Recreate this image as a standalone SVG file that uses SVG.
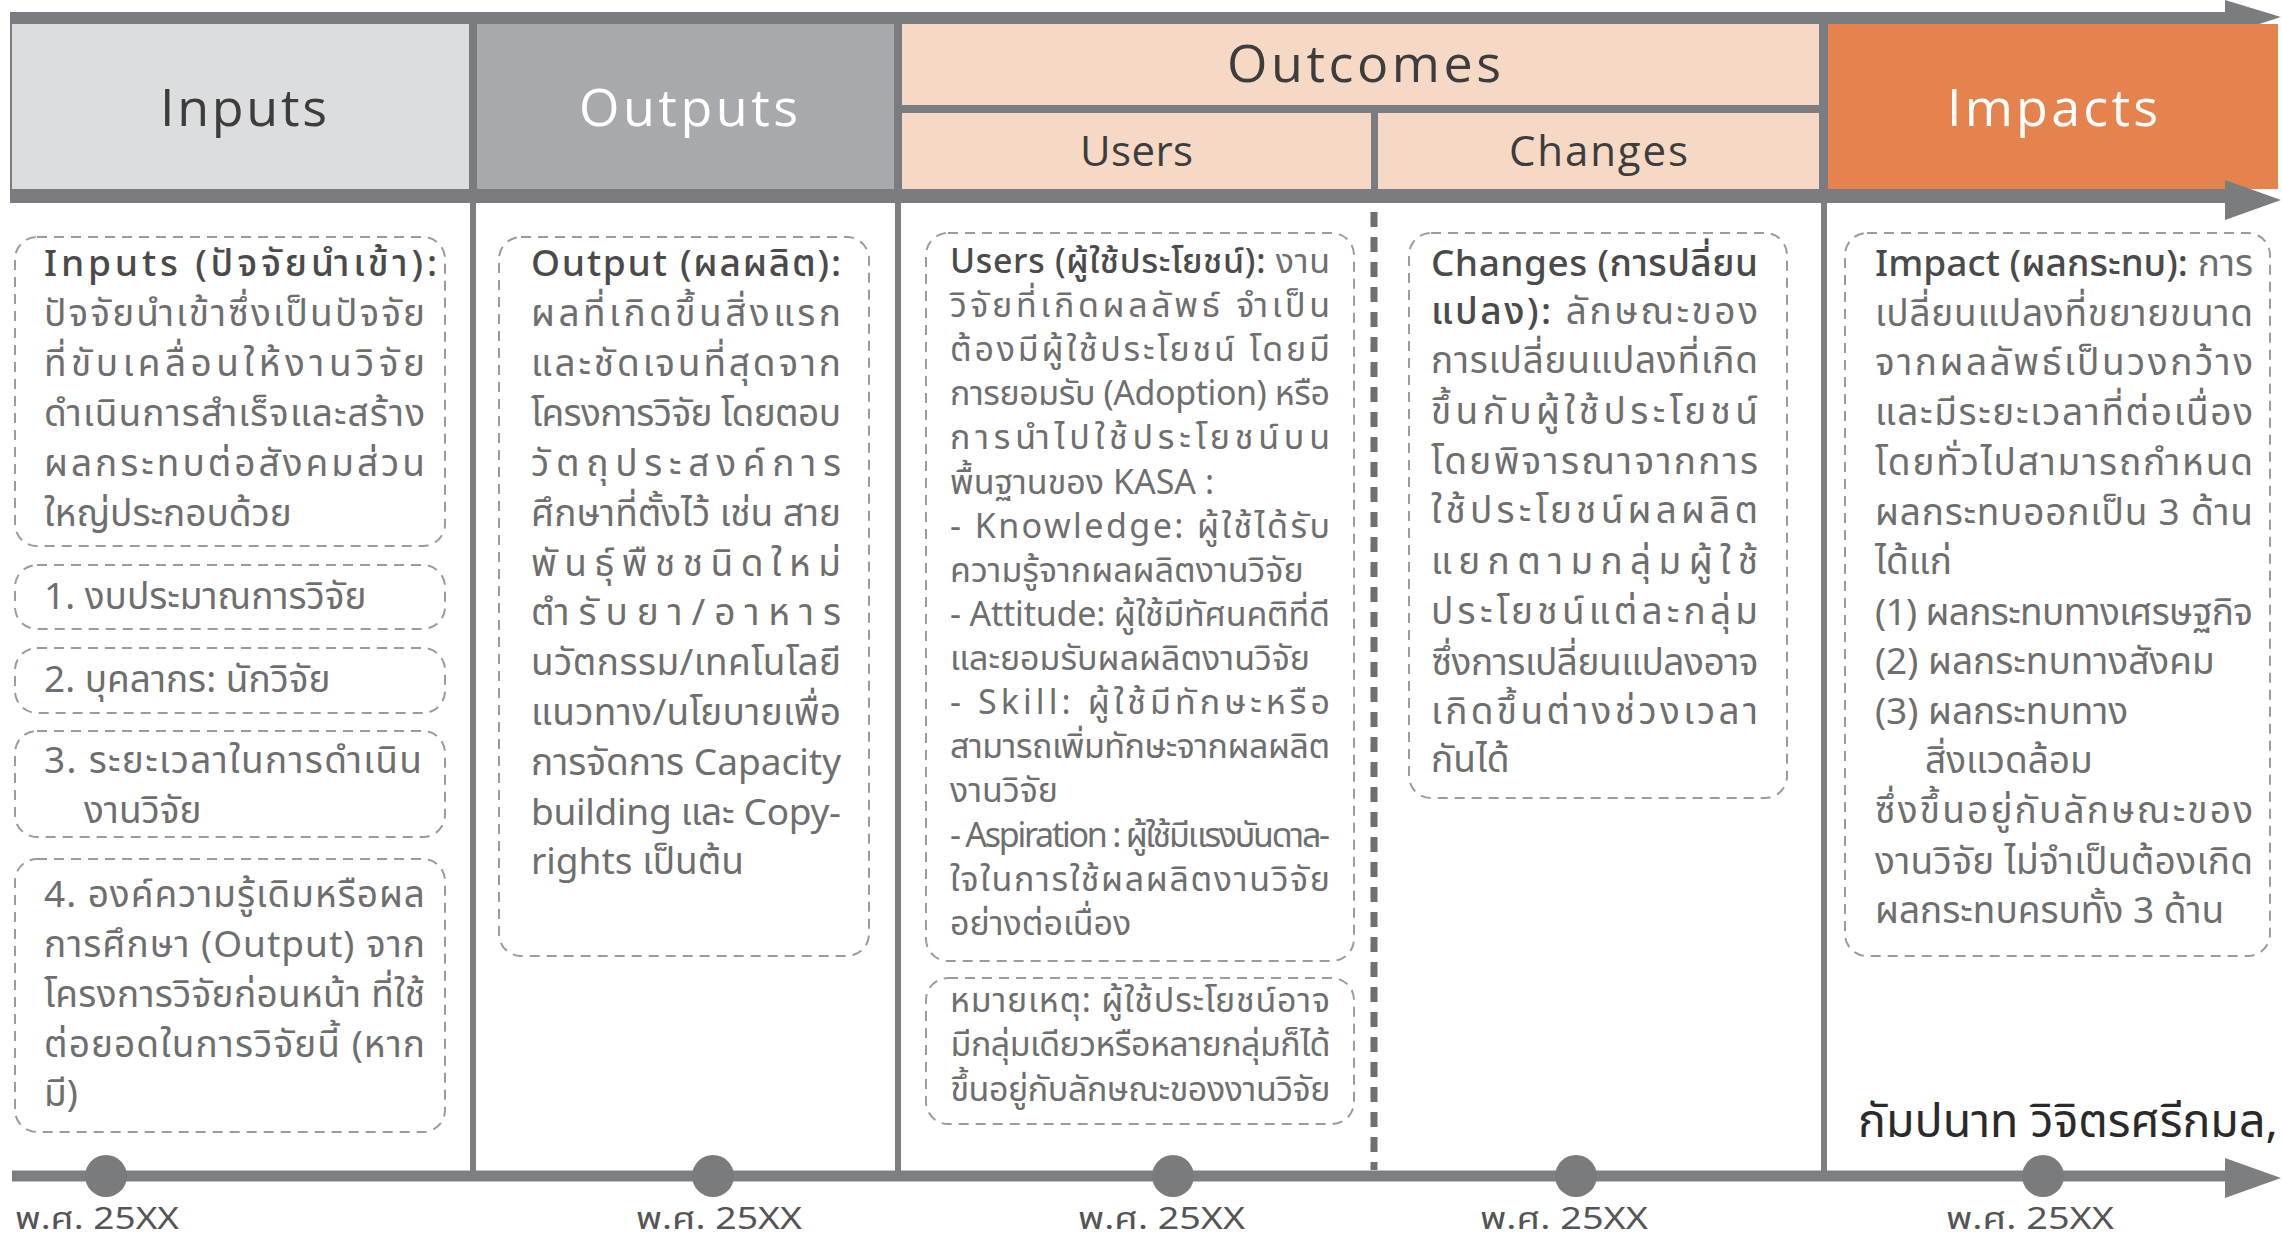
<svg xmlns="http://www.w3.org/2000/svg" width="2282" height="1243" viewBox="0 0 2282 1243">
<style>
.hd{font-family:"Open Sans","Lato","Liberation Sans",sans-serif;font-size:52px;fill:#3d3d3d}
.hs{font-size:42px}
.hw{fill:#ffffff}
.box{fill:none;stroke:#9b9b9b;stroke-width:2;stroke-dasharray:10 7}
.t{font-family:"Noto Sans Thai","Noto Sans Thai Looped","Noto Sans","DejaVu Sans",sans-serif;font-size:37px;fill:#6e6e6e}
.ts{font-size:34px}
.b{fill:#4a4a4a;font-weight:500}
.lbl{font-family:"Noto Sans Thai","Noto Sans","DejaVu Sans Condensed",sans-serif;font-size:31px;fill:#555555}
.div{stroke:#7d7e80;stroke-width:6}
</style>
<rect width="2282" height="1243" fill="#ffffff"/>

<g id="header">
  <rect x="10" y="12" width="2225" height="191" fill="#7b7c7f"/>
  <polygon points="2225,0 2281,17 2225,35" fill="#7b7c7f"/>
  <g id="h-inputs"><rect x="12" y="24" width="457" height="165" fill="#dcdddf"/><text class="hd" x="160" y="126" textLength="167" lengthAdjust="spacing">Inputs</text></g>
  <g id="h-outputs"><rect x="477" y="24" width="417" height="165" fill="#a7a9ac"/><text class="hd hw" x="579" y="126" textLength="219" lengthAdjust="spacing">Outputs</text></g>
  <g id="h-outcomes"><rect x="902" y="24" width="917" height="81" fill="#f6d9c4"/><text class="hd" x="1227" y="82" textLength="274" lengthAdjust="spacing">Outcomes</text></g>
  <g id="h-users"><rect x="902" y="113" width="469" height="76" fill="#f6d9c4"/><text class="hd hs" x="1080" y="166" textLength="113" lengthAdjust="spacing">Users</text></g>
  <g id="h-changes"><rect x="1378" y="113" width="441" height="76" fill="#f6d9c4"/><text class="hd hs" x="1509" y="166" textLength="179" lengthAdjust="spacing">Changes</text></g>
  <g id="h-impacts"><rect x="1828" y="24" width="450" height="165" fill="#e5834f"/><text class="hd hw" x="1947" y="126" textLength="211" lengthAdjust="spacing">Impacts</text></g>
  <polygon points="2225,180 2281,200 2225,220" fill="#7b7c7f"/>
</g>

<g id="connectors">
  <line class="div" x1="473" y1="200" x2="473" y2="1176"/>
  <line class="div" x1="898" y1="200" x2="898" y2="1176"/>
  <line class="div" x1="1824" y1="200" x2="1824" y2="1176"/>
  <line x1="1374" y1="212" x2="1374" y2="1170" stroke="#6f7072" stroke-width="7" stroke-dasharray="15 10"/>
  <line x1="12" y1="1176" x2="2230" y2="1176" stroke="#7d7e80" stroke-width="11"/>
  <polygon points="2225,1158 2281,1178 2225,1198" fill="#7d7e80"/>
  <g fill="#7a7b7d">
    <circle cx="106" cy="1176" r="21"/>
    <circle cx="713" cy="1176" r="21"/>
    <circle cx="1173" cy="1176" r="21"/>
    <circle cx="1576" cy="1176" r="21"/>
    <circle cx="2043" cy="1176" r="21"/>
  </g>
</g>

<g id="inputs-desc">
  <rect class="box" x="15" y="237" width="430" height="309" rx="22"/>
  <text class="t" x="44" y="276" textLength="393" lengthAdjust="spacing"><tspan class="b">Inputs (ปัจจัยนำเข้า):</tspan></text>
  <text class="t" x="44" y="326" textLength="381" lengthAdjust="spacing">ปัจจัยนำเข้าซึ่งเป็นปัจจัย</text>
  <text class="t" x="44" y="376" textLength="381" lengthAdjust="spacing">ที่ขับเคลื่อนให้งานวิจัย</text>
  <text class="t" x="44" y="426" textLength="381" lengthAdjust="spacing">ดำเนินการสำเร็จและสร้าง</text>
  <text class="t" x="44" y="476" textLength="381" lengthAdjust="spacing">ผลกระทบต่อสังคมส่วน</text>
  <text class="t" x="44" y="526">ใหญ่ประกอบด้วย</text>
</g>
<g id="input-1">
  <rect class="box" x="15" y="565" width="430" height="64" rx="22"/>
  <text class="t" x="44" y="609">1. งบประมาณการวิจัย</text>
</g>
<g id="input-2">
  <rect class="box" x="15" y="648" width="430" height="65" rx="22"/>
  <text class="t" x="44" y="692">2. บุคลากร: นักวิจัย</text>
</g>
<g id="input-3">
  <rect class="box" x="15" y="731" width="430" height="106" rx="22"/>
  <text class="t" x="44" y="773" textLength="378" lengthAdjust="spacing">3. ระยะเวลาในการดำเนิน</text>
  <text class="t" x="84" y="823">งานวิจัย</text>
</g>
<g id="input-4">
  <rect class="box" x="15" y="859" width="430" height="273" rx="22"/>
  <text class="t" x="44" y="907" textLength="381" lengthAdjust="spacing">4. องค์ความรู้เดิมหรือผล</text>
  <text class="t" x="44" y="957" textLength="381" lengthAdjust="spacing">การศึกษา (Output) จาก</text>
  <text class="t" x="44" y="1007" textLength="381" lengthAdjust="spacing">โครงการวิจัยก่อนหน้า ที่ใช้</text>
  <text class="t" x="44" y="1057" textLength="381" lengthAdjust="spacing">ต่อยอดในการวิจัยนี้ (หาก</text>
  <text class="t" x="44" y="1106">มี)</text>
</g>

<g id="output-desc">
  <rect class="box" x="499" y="237" width="370" height="719" rx="22"/>
  <text class="t" x="531" y="276" textLength="310" lengthAdjust="spacing"><tspan class="b">Output (ผลผลิต):</tspan></text>
  <text class="t" x="531" y="326" textLength="310" lengthAdjust="spacing">ผลที่เกิดขึ้นสิ่งแรก</text>
  <text class="t" x="531" y="376" textLength="310" lengthAdjust="spacing">และชัดเจนที่สุดจาก</text>
  <text class="t" x="531" y="426" textLength="310" lengthAdjust="spacing">โครงการวิจัย โดยตอบ</text>
  <text class="t" x="531" y="476" textLength="310" lengthAdjust="spacing">วัตถุประสงค์การ</text>
  <text class="t" x="531" y="526" textLength="310" lengthAdjust="spacing">ศึกษาที่ตั้งไว้ เช่น สาย</text>
  <text class="t" x="531" y="576" textLength="310" lengthAdjust="spacing">พันธุ์พืชชนิดใหม่</text>
  <text class="t" x="531" y="625" textLength="310" lengthAdjust="spacing">ตำรับยา/อาหาร</text>
  <text class="t" x="531" y="675" textLength="310" lengthAdjust="spacing">นวัตกรรม/เทคโนโลยี</text>
  <text class="t" x="531" y="725" textLength="310" lengthAdjust="spacing">แนวทาง/นโยบายเพื่อ</text>
  <text class="t" x="531" y="775" textLength="310" lengthAdjust="spacing">การจัดการ Capacity</text>
  <text class="t" x="531" y="825" textLength="310" lengthAdjust="spacing">building และ Copy-</text>
  <text class="t" x="531" y="874">rights เป็นต้น</text>
</g>

<g id="users-desc">
  <rect class="box" x="926" y="233" width="428" height="728" rx="22"/>
  <text class="t ts" x="950" y="273" textLength="380" lengthAdjust="spacing"><tspan class="b">Users (ผู้ใช้ประโยชน์):</tspan> งาน</text>
  <text class="t ts" x="950" y="317" textLength="380" lengthAdjust="spacing">วิจัยที่เกิดผลลัพธ์ จำเป็น</text>
  <text class="t ts" x="950" y="361" textLength="380" lengthAdjust="spacing">ต้องมีผู้ใช้ประโยชน์ โดยมี</text>
  <text class="t ts" x="950" y="405" textLength="380" lengthAdjust="spacing">การยอมรับ (Adoption) หรือ</text>
  <text class="t ts" x="950" y="449" textLength="380" lengthAdjust="spacing">การนำไปใช้ประโยชน์บน</text>
  <text class="t ts" x="950" y="494">พื้นฐานของ KASA :</text>
  <text class="t ts" x="950" y="538" textLength="380" lengthAdjust="spacing">- Knowledge: ผู้ใช้ได้รับ</text>
  <text class="t ts" x="950" y="582">ความรู้จากผลผลิตงานวิจัย</text>
  <text class="t ts" x="950" y="626" textLength="380" lengthAdjust="spacing">- Attitude: ผู้ใช้มีทัศนคติที่ดี</text>
  <text class="t ts" x="950" y="670">และยอมรับผลผลิตงานวิจัย</text>
  <text class="t ts" x="950" y="714" textLength="380" lengthAdjust="spacing">- Skill: ผู้ใช้มีทักษะหรือ</text>
  <text class="t ts" x="950" y="758" textLength="380" lengthAdjust="spacing">สามารถเพิ่มทักษะจากผลผลิต</text>
  <text class="t ts" x="950" y="802">งานวิจัย</text>
  <text class="t ts" x="950" y="847" textLength="380" lengthAdjust="spacing">- Aspiration : ผู้ใช้มีแรงบันดาล-</text>
  <text class="t ts" x="950" y="891" textLength="380" lengthAdjust="spacing">ใจในการใช้ผลผลิตงานวิจัย</text>
  <text class="t ts" x="950" y="935">อย่างต่อเนื่อง</text>
</g>
<g id="users-note">
  <rect class="box" x="926" y="978" width="428" height="146" rx="22"/>
  <text class="t ts" x="950" y="1012" textLength="380" lengthAdjust="spacing">หมายเหตุ: ผู้ใช้ประโยชน์อาจ</text>
  <text class="t ts" x="950" y="1056" textLength="380" lengthAdjust="spacing">มีกลุ่มเดียวหรือหลายกลุ่มก็ได้</text>
  <text class="t ts" x="950" y="1101" textLength="380" lengthAdjust="spacing">ขึ้นอยู่กับลักษณะของงานวิจัย</text>
</g>

<g id="changes-desc">
  <rect class="box" x="1409" y="233" width="378" height="565" rx="22"/>
  <text class="t" x="1431" y="276" textLength="327" lengthAdjust="spacing"><tspan class="b">Changes (การปลี่ยน</tspan></text>
  <text class="t" x="1431" y="324" textLength="327" lengthAdjust="spacing"><tspan class="b">แปลง):</tspan> ลักษณะของ</text>
  <text class="t" x="1431" y="373" textLength="327" lengthAdjust="spacing">การเปลี่ยนแปลงที่เกิด</text>
  <text class="t" x="1431" y="424" textLength="327" lengthAdjust="spacing">ขึ้นกับผู้ใช้ประโยชน์</text>
  <text class="t" x="1431" y="474" textLength="327" lengthAdjust="spacing">โดยพิจารณาจากการ</text>
  <text class="t" x="1431" y="523" textLength="327" lengthAdjust="spacing">ใช้ประโยชน์ผลผลิต</text>
  <text class="t" x="1431" y="574" textLength="327" lengthAdjust="spacing">แยกตามกลุ่มผู้ใช้</text>
  <text class="t" x="1431" y="624" textLength="327" lengthAdjust="spacing">ประโยชน์แต่ละกลุ่ม</text>
  <text class="t" x="1431" y="675" textLength="327" lengthAdjust="spacing">ซึ่งการเปลี่ยนแปลงอาจ</text>
  <text class="t" x="1431" y="724" textLength="327" lengthAdjust="spacing">เกิดขึ้นต่างช่วงเวลา</text>
  <text class="t" x="1431" y="772">กันได้</text>
</g>

<g id="impact-desc">
  <rect class="box" x="1845" y="233" width="425" height="723" rx="22"/>
  <text class="t" x="1875" y="276" textLength="378" lengthAdjust="spacing"><tspan class="b">Impact (ผลกระทบ):</tspan> การ</text>
  <text class="t" x="1875" y="326" textLength="378" lengthAdjust="spacing">เปลี่ยนแปลงที่ขยายขนาด</text>
  <text class="t" x="1875" y="375" textLength="378" lengthAdjust="spacing">จากผลลัพธ์เป็นวงกว้าง</text>
  <text class="t" x="1875" y="425" textLength="378" lengthAdjust="spacing">และมีระยะเวลาที่ต่อเนื่อง</text>
  <text class="t" x="1875" y="475" textLength="378" lengthAdjust="spacing">โดยทั่วไปสามารถกำหนด</text>
  <text class="t" x="1875" y="525" textLength="378" lengthAdjust="spacing">ผลกระทบออกเป็น 3 ด้าน</text>
  <text class="t" x="1875" y="574">ได้แก่</text>
  <text class="t" x="1875" y="625" textLength="378" lengthAdjust="spacing">(1) ผลกระทบทางเศรษฐกิจ</text>
  <text class="t" x="1875" y="674">(2) ผลกระทบทางสังคม</text>
  <text class="t" x="1875" y="724">(3) ผลกระทบทาง</text>
  <text class="t" x="1925" y="773">สิ่งแวดล้อม</text>
  <text class="t" x="1875" y="823" textLength="378" lengthAdjust="spacing">ซึ่งขึ้นอยู่กับลักษณะของ</text>
  <text class="t" x="1875" y="874" textLength="378" lengthAdjust="spacing">งานวิจัย ไม่จำเป็นต้องเกิด</text>
  <text class="t" x="1875" y="923">ผลกระทบครบทั้ง 3 ด้าน</text>
</g>

<g id="dates">
  <text class="lbl" x="15" y="1229" textLength="164" lengthAdjust="spacingAndGlyphs">พ.ศ. 25XX</text>
  <text class="lbl" x="636" y="1229" textLength="166" lengthAdjust="spacingAndGlyphs">พ.ศ. 25XX</text>
  <text class="lbl" x="1078" y="1229" textLength="167" lengthAdjust="spacingAndGlyphs">พ.ศ. 25XX</text>
  <text class="lbl" x="1480" y="1229" textLength="168" lengthAdjust="spacingAndGlyphs">พ.ศ. 25XX</text>
  <text class="lbl" x="1946" y="1229" textLength="168" lengthAdjust="spacingAndGlyphs">พ.ศ. 25XX</text>
</g>
<text id="credit" x="1858" y="1137" textLength="420" lengthAdjust="spacingAndGlyphs" style="font-family:'Noto Sans Thai','Noto Sans','DejaVu Sans',sans-serif;font-size:46px;fill:#2a2a2a">กัมปนาท วิจิตรศรีกมล,</text>
</svg>
